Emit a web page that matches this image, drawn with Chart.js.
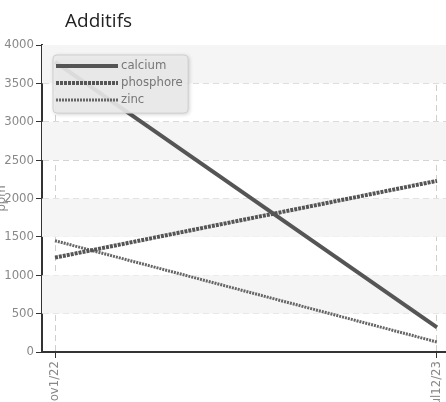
<!DOCTYPE html>
<html>
  <head>
    <style>
      * {
        margin: 0;
        padding: 0;
      }
      body {
        overflow: hidden;
        background: #ffffff;
        width: 446px;
        height: 402px;
      }
      .chartBox {
        position: absolute;
        left: -6px;
        top: 0;
      }
    </style>
  </head>
  <body>
    <div class="chartBox">
      <canvas id="myChart" width="452" height="430"></canvas>
    </div>
    <script src="https://cdn.jsdelivr.net/npm/chart.js/dist/chart.umd.min.js"></script>
    <script>
      // data
      const chartTitle = "Additifs";
      const dates = ["Nov1/22", "Jul12/23"];
      const calcium = [3780, 320];
      const phosphore = [1230, 2230];
      const zinc = [1450, 130];
      const yTicks = [0, 500, 1000, 1500, 2000, 2500, 3000, 3500, 4000];

      const cond = "'DejaVu Sans Condensed', 'DejaVu Sans', sans-serif";

      const toPoints = (arr) => arr.map((v, i) => ({ x: i, y: v }));

      // alternating bands inside plot area
      const bands = {
        id: "bands",
        beforeDatasetsDraw(chart) {
          const { ctx, chartArea, scales } = chart;
          ctx.save();
          ctx.fillStyle = "#f5f5f5";
          for (let i = 1; i < yTicks.length; i += 2) {
            const yTop = scales.y.getPixelForValue(yTicks[i + 1]);
            const yBot = scales.y.getPixelForValue(yTicks[i]);
            ctx.fillRect(chartArea.left, yTop, chartArea.right - chartArea.left, yBot - yTop);
          }
          ctx.restore();
        },
      };

      // title + legend box inside the plot area
      const boxLegend = {
        id: "boxLegend",
        afterDraw(chart) {
          const { ctx, chartArea } = chart;
          ctx.save();
          ctx.fillStyle = "#222";
          ctx.font = "19px 'Open Sans', sans-serif";
          ctx.textBaseline = "alphabetic";
          ctx.fillText(chartTitle, 71, 27);

          const x = chartArea.left + 11;
          const y = chartArea.top + 10;
          const w = 135;
          const h = 58;
          ctx.shadowColor = "rgba(0,0,0,0.25)";
          ctx.shadowBlur = 4;
          ctx.shadowOffsetX = 1;
          ctx.shadowOffsetY = 1;
          ctx.fillStyle = "rgba(236,236,236,0.9)";
          ctx.beginPath();
          ctx.roundRect(x, y, w, h, 4);
          ctx.fill();
          ctx.shadowColor = "transparent";
          ctx.strokeStyle = "#d0d0d0";
          ctx.lineWidth = 1;
          ctx.stroke();
          chart.data.datasets.forEach((ds, i) => {
            const ly = y + 11 + i * 17;
            ctx.beginPath();
            ctx.strokeStyle = ds.borderColor;
            ctx.lineWidth = ds.borderWidth;
            ctx.setLineDash(ds.borderDash || []);
            ctx.moveTo(x + 3, ly);
            ctx.lineTo(x + 65, ly);
            ctx.stroke();
            ctx.setLineDash([]);
            ctx.fillStyle = "#777";
            ctx.font = "13px " + cond;
            ctx.textBaseline = "middle";
            ctx.fillText(ds.label, x + 68, ly);
          });
          ctx.restore();
        },
      };

      const data = {
        datasets: [
          {
            label: "calcium",
            data: toPoints(calcium),
            borderColor: "#555555",
            borderWidth: 4,
            pointRadius: 0,
          },
          {
            label: "phosphore",
            data: toPoints(phosphore),
            borderColor: "#555555",
            borderWidth: 4,
            borderDash: [3, 1],
            pointRadius: 0,
          },
          {
            label: "zinc",
            data: toPoints(zinc),
            borderColor: "#666666",
            borderWidth: 3,
            borderDash: [2, 1],
            pointRadius: 0,
          },
        ],
      };

      // config
      const config = {
        type: "line",
        data,
        plugins: [bands, boxLegend],
        options: {
          responsive: false,
          animation: false,
          layout: { padding: { top: 45, right: 0, left: 0, bottom: 0 } },
          plugins: {
            legend: { display: false },
            tooltip: { enabled: false },
          },
          scales: {
            x: {
              type: "linear",
              min: -13 / 382,
              max: 1 + 9 / 382,
              afterBuildTicks(scale) {
                scale.ticks = dates.map((d, i) => ({ value: i }));
              },
              afterFit(scale) {
                scale.height = 430 - 352;
                scale.paddingLeft = 0;
                scale.paddingRight = 0;
              },
              ticks: {
                callback: (v) => dates[v],
                maxRotation: 90,
                minRotation: 90,
                color: "#888",
                font: { family: cond, size: 13 },
                padding: 3,
              },
              grid: {
                color: "#cfcfcf",
                tickColor: "#333",
                tickLength: 6,
              },
              border: { color: "#333", width: 2, dash: [6, 4] },
            },
            y: {
              min: 0,
              max: 4000,
              afterBuildTicks(scale) {
                scale.ticks = yTicks.map((v) => ({ value: v }));
              },
              afterFit(scale) {
                scale.width = 48;
              },
              ticks: {
                callback: (v) => String(v),
                color: "#888",
                font: { family: cond, size: 13 },
                padding: 2,
              },
              title: {
                display: true,
                text: "ppm",
                color: "#888",
                font: { family: cond, size: 13 },
                padding: 0,
              },
              grid: {
                color: "#cfcfcf",
                tickColor: "#333",
                tickLength: 6,
              },
              border: { color: "#333", width: 2, dash: [6, 4] },
            },
          },
        },
      };

      // render init block
      const myChart = new Chart(document.getElementById("myChart"), config);
    </script>
  </body>
</html>
